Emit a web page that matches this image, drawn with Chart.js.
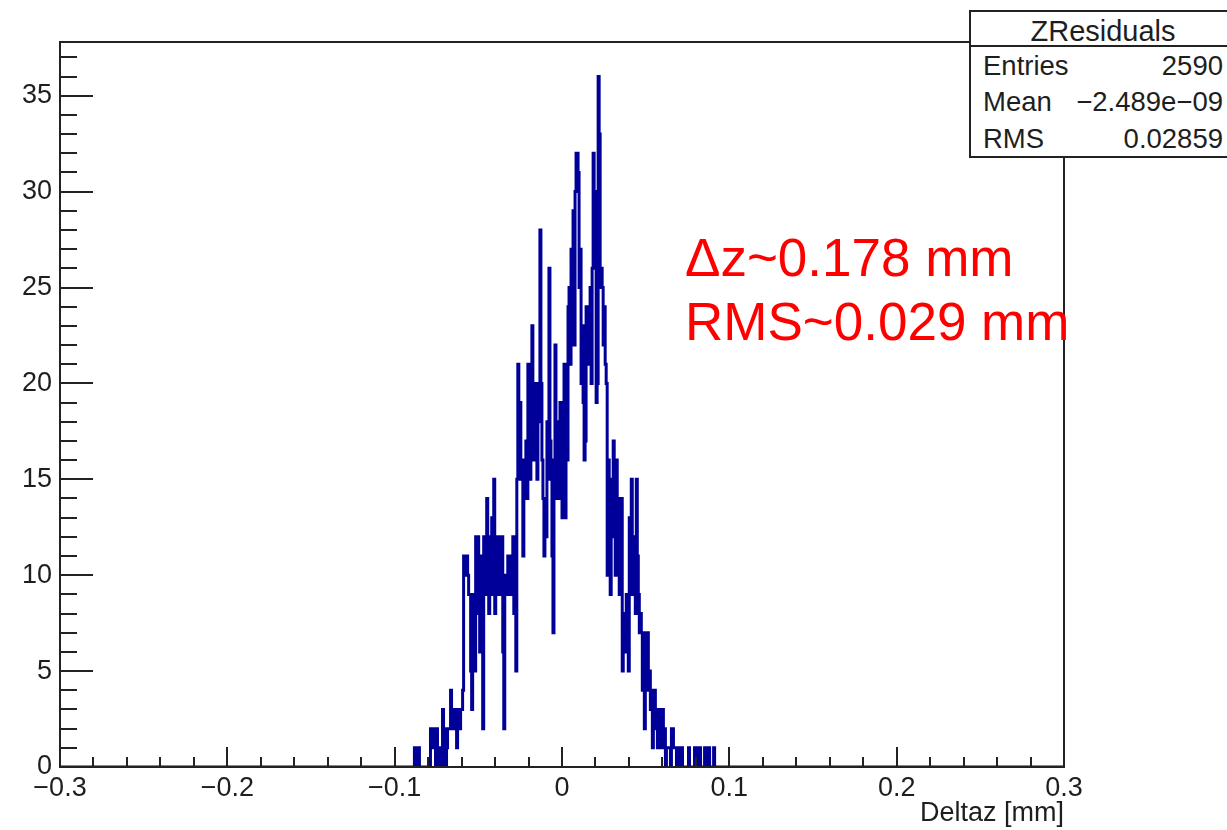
<!DOCTYPE html>
<html>
<head>
<meta charset="utf-8">
<title>ZResiduals</title>
<script src="https://cdn.jsdelivr.net/npm/chart.js@4.4.0/dist/chart.umd.min.js"></script>
<style>
  body { margin: 0; background: #fff; overflow: hidden; }
  #wrap { position: relative; width: 1227px; height: 830px; overflow: hidden; font-family: 'Liberation Sans', Arial, sans-serif; }
  #stats { position: absolute; left: 969px; top: 10px; width: 300px; height: 144px; border: 2px solid #222; background: #fff; }
  #stats .sep { position: absolute; left: 0; right: 0; top: 33px; border-top: 2px solid #222; }
  .st { position: absolute; font-size: 27.5px; line-height: 1; color: #1e1e1e; white-space: nowrap; }
  .note { position: absolute; left: 685px; font-size: 53px; line-height: 1; color: #ff0000; white-space: nowrap; }
</style>
</head>
<body>
<div id="wrap">
  <canvas id="myChart" width="1227" height="830"></canvas>
  <div id="stats"><div class="sep"></div></div>
  <div class="st" style="left:1103px; top:17px; font-size:29px; transform:translateX(-50%)">ZResiduals</div>
  <div class="st" style="left:983px; top:52px">Entries</div>
  <div class="st" style="right:4px; top:52px">2590</div>
  <div class="st" style="left:983px; top:88px">Mean</div>
  <div class="st" style="right:4px; top:88px">&minus;2.489e&minus;09</div>
  <div class="st" style="left:983px; top:125px">RMS</div>
  <div class="st" style="right:4px; top:125px">0.02859</div>
  <div class="note" style="top:231px">Δz~0.178 mm</div>
  <div class="note" style="top:295px">RMS~0.029 mm</div>
</div>
<script>
'use strict';
// histogram: 1000 bins over [-0.3, 0.3], only the filled part is listed
const binLow = -0.09;
const binWidth = 0.0006;
const xMin = -0.3;
const xMax = 0.3;
const yMax = 37.8;

// counts per bin (10 bins per row)
const counts = [
  0,0,0,1,0,0,0,1,0,0,
  0,0,0,0,0,0,0,0,0,2,
  2,1,2,2,0,2,1,0,1,1,
  0,3,1,2,0,1,2,2,2,4,
  3,3,2,3,3,1,3,3,2,3,
  3,4,11,10,11,11,10,9,9,5,
  3,9,6,5,12,11,12,8,6,11,
  7,2,12,9,11,14,10,8,12,10,
  13,9,15,8,11,9,12,10,11,9,
  12,6,2,9,10,9,11,10,9,11,
  9,12,8,10,5,15,21,17,19,15,
  16,11,16,15,17,14,21,18,15,20,
  23,16,19,17,20,15,18,18,28,20,
  16,14,11,13,12,18,15,26,17,16,
  11,7,14,22,16,18,14,17,19,16,
  13,18,21,13,17,16,24,25,21,27,
  22,29,22,30,32,32,31,25,27,20,
  23,19,16,17,24,21,23,22,25,20,
  26,32,28,30,19,20,36,33,25,26,
  25,22,24,21,20,10,16,12,9,15,
  12,17,13,10,16,12,14,9,11,14,
  5,8,6,7,9,8,5,13,11,15,
  9,12,10,8,15,11,9,7,8,7,
  4,7,2,6,5,7,4,5,3,4,
  1,3,4,2,3,1,3,2,1,2,
  3,1,2,0,1,1,1,1,0,2,
  2,1,1,1,0,1,1,1,0,1,
  0,0,0,0,0,0,1,0,0,0,
  0,0,1,0,1,1,0,1,0,0,
  0,0,1,0,1,0,1,0,0,0,
  0,1
];

// step outline: a point at each bin low edge
const points = [{ x: xMin, y: 0 }];
for (let i = 0; i < counts.length; i++) {
  points.push({ x: binLow + i * binWidth, y: counts[i] });
}
points.push({ x: binLow + counts.length * binWidth, y: 0 });
points.push({ x: xMax, y: 0 });

const textColor = '#1e1e1e';
const axisFont = { family: "'Liberation Sans', Arial, sans-serif", size: 27 };

function fmt(v) {
  const r = Math.round(v * 10) / 10;
  if (r === 0) return '0';
  return (r < 0 ? '\u2212' : '') + Math.abs(r).toString();
}

// ROOT style frame with inward ticks
const frameTicks = {
  id: 'frameTicks',
  afterDraw(chart) {
    const ctx = chart.ctx;
    const a = chart.chartArea;
    const xs = chart.scales.x;
    const ys = chart.scales.y;
    ctx.save();
    ctx.strokeStyle = '#222';
    ctx.lineWidth = 2;
    ctx.strokeRect(a.left, a.top, a.right - a.left, a.bottom - a.top);
    ctx.beginPath();
    for (let v = 0; v <= 37; v++) {
      const py = Math.round(ys.getPixelForValue(v));
      const len = v % 5 === 0 ? 33 : 17;
      ctx.moveTo(a.left, py);
      ctx.lineTo(a.left + len, py);
    }
    for (let i = 0; i <= 30; i++) {
      const px = Math.round(xs.getPixelForValue(xMin + i * 0.02));
      const len = i % 5 === 0 ? 20 : 10;
      ctx.moveTo(px, a.bottom);
      ctx.lineTo(px, a.bottom - len);
    }
    ctx.stroke();
    ctx.restore();
  }
};

const config = {
  type: 'line',
  data: {
    datasets: [{
      label: 'ZResiduals',
      data: points,
      borderColor: 'rgb(0, 0, 153)',
      borderWidth: 3,
      stepped: true,
      pointRadius: 0,
      fill: false,
      tension: 0
    }]
  },
  options: {
    responsive: false,
    animation: false,
    devicePixelRatio: 1,
    layout: { padding: { top: 42, right: 163, left: 0, bottom: 0 } },
    plugins: { legend: { display: false }, tooltip: { enabled: false } },
    scales: {
      x: {
        type: 'linear',
        min: xMin,
        max: xMax,
        grid: { display: false, drawTicks: false },
        border: { display: false },
        ticks: {
          stepSize: 0.1,
          autoSkip: false,
          maxRotation: 0,
          padding: 5,
          color: textColor,
          font: axisFont,
          callback: (v) => fmt(v)
        },
        title: {
          display: true,
          text: 'Deltaz [mm]',
          align: 'end',
          color: textColor,
          font: axisFont,
          padding: { top: 0, bottom: 0 }
        },
        afterFit: (scale) => { scale.height = 63; }
      },
      y: {
        min: 0,
        max: yMax,
        grid: { display: false, drawTicks: false },
        border: { display: false },
        ticks: {
          stepSize: 5,
          includeBounds: false,
          padding: 8,
          color: textColor,
          font: axisFont
        },
        afterFit: (scale) => { scale.width = 60; }
      }
    }
  },
  plugins: [frameTicks]
};

const myChart = new Chart(document.getElementById('myChart'), config);
</script>
</body>
</html>
